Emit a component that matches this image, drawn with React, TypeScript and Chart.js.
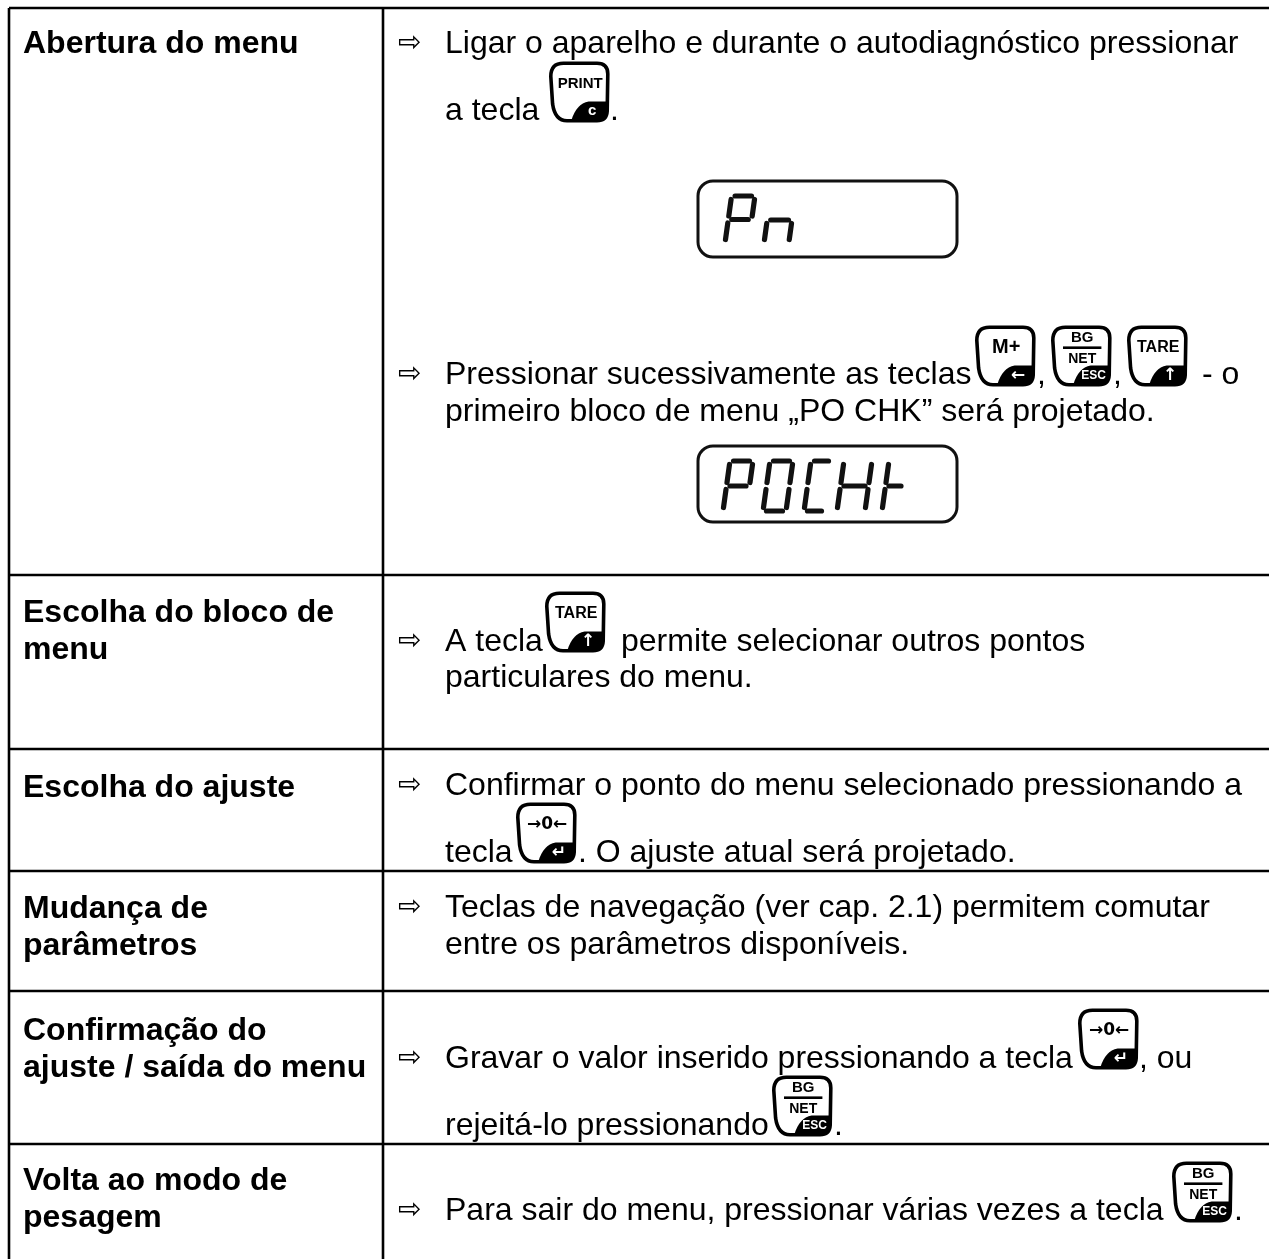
import React, { useEffect, useRef } from "react";
import { Chart, registerables } from "chart.js";

Chart.register(...registerables);

const SANS = '"Liberation Sans", Arial, sans-serif';
const WIDTH = 1269;
const HEIGHT = 1259;

// table rules, in table units
const ruleRows = [8, 575, 749, 871, 991, 1144];
const ruleCols = [9, 383];
const ruleRight = 1269;
const ruleBottom = 1259;

// [text, x, baseline]
const labelRuns: [string, number, number][] = [
  ["Abertura do menu", 23, 53],
  ["Escolha do bloco de", 23, 622],
  ["menu", 23, 659],
  ["Escolha do ajuste", 23, 797],
  ["Mudança de", 23, 918],
  ["parâmetros", 23, 955],
  ["Confirmação do", 23, 1040],
  ["ajuste / saída do menu", 23, 1077],
  ["Volta ao modo de", 23, 1190],
  ["pesagem", 23, 1227],
];

const bodyRuns: [string, number, number][] = [
  ["Ligar o aparelho e durante o autodiagnóstico pressionar", 445, 53],
  ["a tecla", 445, 120],
  [".", 610, 120],
  ["Pressionar sucessivamente as teclas", 445, 384],
  [",", 1037, 384],
  [",", 1113, 384],
  ["- o", 1202, 384],
  ["primeiro bloco de menu „PO CHK” será projetado.", 445, 421],
  ["A tecla", 445, 651],
  ["permite selecionar outros pontos", 621, 651],
  ["particulares do menu.", 445, 687],
  ["Confirmar o ponto do menu selecionado pressionando a", 445, 795],
  ["tecla", 445, 862],
  [". O ajuste atual será projetado.", 578, 862],
  ["Teclas de navegação (ver cap. 2.1) permitem comutar", 445, 917],
  ["entre os parâmetros disponíveis.", 445, 954],
  ["Gravar o valor inserido pressionando a tecla", 445, 1068],
  [", ou", 1139, 1068],
  ["rejeitá-lo pressionando", 445, 1135],
  [".", 834, 1135],
  ["Para sair do menu, pressionar várias vezes a tecla", 445, 1220],
  [".", 1234, 1220],
];

const arrowRows = [53, 384, 651, 795, 917, 1068, 1220];
const arrowMark = "⇨";

// [key name, left, top]
const keys: [string, number, number][] = [
  ["PRINT", 549, 62],
  ["M+", 975, 326],
  ["BG", 1051, 326],
  ["TARE", 1127, 326],
  ["TARE", 545, 592],
  ["ZERO", 516, 803],
  ["ZERO", 1078, 1009],
  ["BG", 772, 1076],
  ["BG", 1172, 1162],
];

// displays: [left, top, right, bottom]
const displays: [number, number, number, number][] = [
  [698, 181, 957, 257],
  [698, 446, 957, 522],
];

// seven-segment glyphs: [segments, left, top, width, height]
const glyphs: [string, number, number, number, number][] = [
  ["abgef", 725, 196, 30, 47],
  ["T", 764, 220, 28, 23],
  ["abgef", 723, 461, 30, 50],
  ["abcdef", 763, 461, 30, 50],
  ["adef", 804, 461, 28, 50],
  ["bcefg", 837, 461, 35, 50],
  ["efg", 882, 461, 26, 50],
];

const keyPlugin = {
  id: "tablePaint",
  afterDatasetsDraw(chart: any) {
    const { ctx, scales } = chart;
    const X = (v: number) => scales.x.getPixelForValue(v);
    const Y = (v: number) => scales.y.getPixelForValue(v);
    ctx.save();
    ctx.textBaseline = "alphabetic";
    ctx.textAlign = "left";
    ctx.fillStyle = "#000";

    ctx.font = `bold 32px ${SANS}`;
    labelRuns.forEach(([t, x, y]) => ctx.fillText(t, X(x), Y(y)));

    ctx.font = `32px ${SANS}`;
    bodyRuns.forEach(([t, x, y]) => ctx.fillText(t, X(x), Y(y)));

    ctx.font = `28px "DejaVu Sans", sans-serif`;
    arrowRows.forEach((y) => ctx.fillText(arrowMark, X(398), Y(y - 2)));

    keys.forEach(([k, x, y]) => drawKey(ctx, k, X(x), Y(y)));

    ctx.lineWidth = 3;
    ctx.strokeStyle = "#111";
    displays.forEach(([l, t, r, b]) => {
      ctx.beginPath();
      ctx.roundRect(X(l), Y(t), X(r) - X(l), Y(b) - Y(t), 15);
      ctx.stroke();
    });
    glyphs.forEach(([s, x, y, w, h]) => drawGlyph(ctx, s, X(x), Y(y), w, h));
    ctx.restore();
  },
};

function drawGlyph(ctx: any, s: string, x: number, y: number, w: number, h: number) {
  const slant = h * 0.14;
  const gap = 3.5;
  const p = (u: number, v: number): [number, number] => [x + slant * (1 - v) + u * (w - slant), y + v * h];
  const seg: Record<string, [[number, number], [number, number]]> = {
    a: [[0, 0], [1, 0]],
    b: [[1, 0], [1, 0.5]],
    c: [[1, 0.5], [1, 1]],
    d: [[0, 1], [1, 1]],
    e: [[0, 0.5], [0, 1]],
    f: [[0, 0], [0, 0.5]],
    g: [[0, 0.5], [1, 0.5]],
  };
  ctx.strokeStyle = "#111";
  ctx.lineCap = "round";
  ctx.lineWidth = 5.2;
  const line = (a: [number, number], b: [number, number]) => {
    const A = p(a[0], a[1]);
    const B = p(b[0], b[1]);
    const L = Math.hypot(B[0] - A[0], B[1] - A[1]);
    const dx = ((B[0] - A[0]) / L) * gap;
    const dy = ((B[1] - A[1]) / L) * gap;
    ctx.beginPath();
    ctx.moveTo(A[0] + dx, A[1] + dy);
    ctx.lineTo(B[0] - dx, B[1] - dy);
    ctx.stroke();
  };
  for (const c of s) {
    if (c === "T") {
      line([0, 0], [1, 0]);
      line([0, 0], [0, 1]);
      line([1, 0], [1, 1]);
      continue;
    }
    line(seg[c][0], seg[c][1]);
  }
  ctx.lineCap = "butt";
}

function drawKey(ctx: any, kind: string, x: number, y: number) {
  const w = 60;
  const h = 60;
  const px = (u: number) => x + u * w;
  const py = (v: number) => y + v * h;
  const outline = () => {
    ctx.beginPath();
    ctx.moveTo(px(0.24), py(0.02));
    ctx.lineTo(px(0.8), py(0.02));
    ctx.quadraticCurveTo(px(0.98), py(0.02), px(0.98), py(0.2));
    ctx.lineTo(px(0.97), py(0.82));
    ctx.quadraticCurveTo(px(0.96), py(0.98), px(0.8), py(0.98));
    ctx.lineTo(px(0.3), py(0.98));
    ctx.quadraticCurveTo(px(0.1), py(0.98), px(0.06), py(0.7));
    ctx.lineTo(px(0.03), py(0.24));
    ctx.quadraticCurveTo(px(0.03), py(0.02), px(0.24), py(0.02));
    ctx.closePath();
  };
  ctx.save();
  outline();
  ctx.fillStyle = "#fff";
  ctx.fill();
  ctx.save();
  outline();
  ctx.clip();
  ctx.fillStyle = "#000";
  ctx.beginPath();
  ctx.moveTo(px(0.36), py(1.02));
  ctx.quadraticCurveTo(px(0.44), py(0.7), px(0.66), py(0.66));
  ctx.lineTo(px(1.02), py(0.66));
  ctx.lineTo(px(1.02), py(1.02));
  ctx.closePath();
  ctx.fill();
  ctx.restore();
  outline();
  ctx.strokeStyle = "#000";
  ctx.lineWidth = 3.6;
  ctx.stroke();

  ctx.textAlign = "center";
  ctx.textBaseline = "middle";
  ctx.fillStyle = "#000";
  const cx = px(0.52);
  if (kind === "PRINT") {
    ctx.font = `bold 15px ${SANS}`;
    ctx.fillText("PRINT", cx, py(0.36));
    ctx.fillStyle = "#fff";
    ctx.font = `bold 15px ${SANS}`;
    ctx.fillText("c", px(0.72), py(0.82));
  } else if (kind === "M+") {
    ctx.font = `bold 20px ${SANS}`;
    ctx.fillText("M+", cx, py(0.36));
    arrowWhite(ctx, "←", px(0.72), py(0.82));
  } else if (kind === "BG") {
    ctx.font = `bold 15px ${SANS}`;
    ctx.fillText("BG", cx, py(0.2));
    ctx.fillRect(px(0.2), py(0.34), w * 0.64, 2.6);
    ctx.font = `bold 14px ${SANS}`;
    ctx.fillText("NET", cx, py(0.55));
    ctx.fillStyle = "#fff";
    ctx.font = `bold 12px ${SANS}`;
    ctx.fillText("ESC", px(0.71), py(0.83));
  } else if (kind === "TARE") {
    ctx.font = `bold 16px ${SANS}`;
    ctx.fillText("TARE", cx, py(0.36));
    arrowWhite(ctx, "↑", px(0.72), py(0.82));
  } else {
    ctx.font = `bold 17px "DejaVu Sans", sans-serif`;
    ctx.fillText("→0←", cx, py(0.36));
    arrowWhite(ctx, "↵", px(0.72), py(0.82));
  }
  ctx.restore();
}

function arrowWhite(ctx: any, mark: string, x: number, y: number) {
  ctx.fillStyle = "#fff";
  ctx.font = `bold 17px "DejaVu Sans", sans-serif`;
  ctx.fillText(mark, x, y);
}

const horizontalRules = ruleRows.map((y) => ({
  data: [
    { x: ruleCols[0], y },
    { x: ruleRight, y },
  ],
}));
const verticalRules = ruleCols.map((x) => ({
  data: [
    { x, y: ruleRows[0] },
    { x, y: ruleBottom },
  ],
}));

export default function App() {
  const ref = useRef<HTMLCanvasElement | null>(null);
  useEffect(() => {
    document.body.style.background = "#fff";
    const chart = new Chart(ref.current as HTMLCanvasElement, {
      type: "scatter",
      data: {
        datasets: [...horizontalRules, ...verticalRules].map((d) => ({
          ...d,
          showLine: true,
          borderColor: "#000",
          borderWidth: 2.6,
          pointRadius: 0,
          fill: false,
        })),
      },
      options: {
        responsive: false,
        animation: false,
        layout: { padding: 0 },
        plugins: { legend: { display: false }, tooltip: { enabled: false }, title: { display: false } },
        scales: {
          x: { type: "linear", min: 0, max: WIDTH, display: false },
          y: { type: "linear", min: 0, max: HEIGHT, reverse: true, display: false },
        },
      },
      plugins: [keyPlugin],
    } as any);
    return () => chart.destroy();
  }, []);
  return (
    <canvas
      ref={ref}
      width={WIDTH}
      height={HEIGHT}
      style={{ position: "absolute", left: 0, top: 0, display: "block" }}
    />
  );
}
